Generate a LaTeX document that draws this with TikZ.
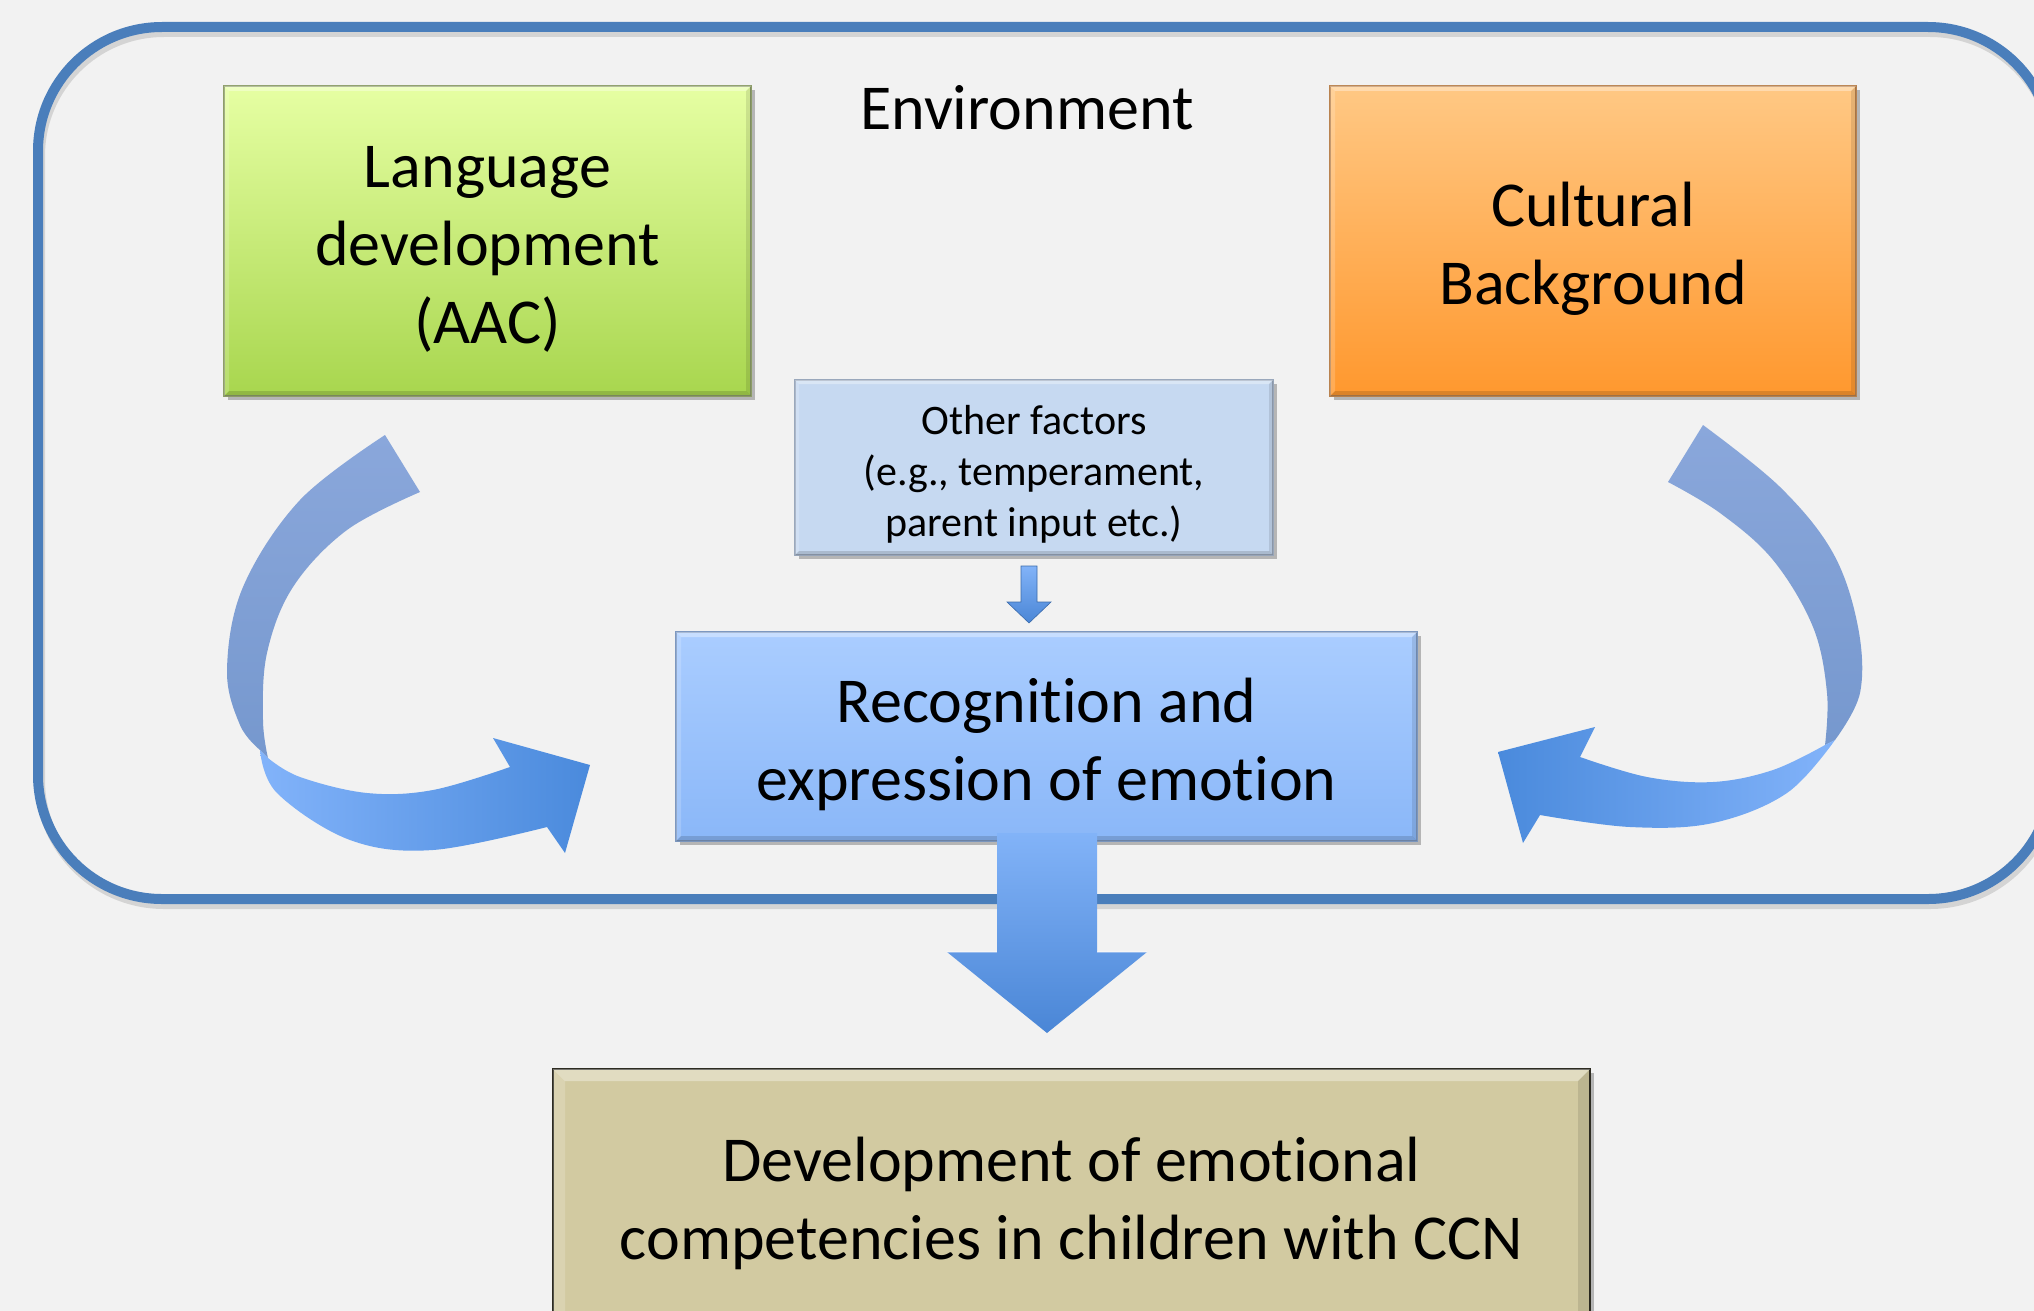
\documentclass[tikz,border=0pt]{standalone}
\usepackage{fontspec}
\setmainfont{Carlito}[Ligatures=NoCommon]
\usetikzlibrary{calc,shadows}

\definecolor{bgc}{HTML}{F2F2F2}
\definecolor{envc}{HTML}{4A7EBB}
\definecolor{langT}{HTML}{E6FFA3}
\definecolor{langB}{HTML}{A8D64E}
\definecolor{langD}{HTML}{8E9E6A}
\definecolor{cultT}{HTML}{FFC884}
\definecolor{cultB}{HTML}{FF982E}
\definecolor{cultD}{HTML}{B98350}
\definecolor{othF}{HTML}{C6D9F1}
\definecolor{othD}{HTML}{9AA8BC}
\definecolor{recT}{HTML}{AACDFF}
\definecolor{recB}{HTML}{8AB7F8}
\definecolor{recD}{HTML}{7D98C0}
\definecolor{devF}{HTML}{D2CAA1}
\definecolor{devD}{HTML}{2E2C22}
\definecolor{ribT}{HTML}{8AA7DB}
\definecolor{ribM}{HTML}{7698CE}
\definecolor{ribL}{HTML}{82B3FA}
\definecolor{ribR}{HTML}{4A8ADC}
\definecolor{arT}{HTML}{82B3F8}
\definecolor{arB}{HTML}{4A86D6}

% bevelled edge on a rectangular node: #1 node name, #2 bevel width
\newcommand{\boxbevel}[2]{%
  \fill[white,opacity=0.35] (#1.north west) -- (#1.north east)
     -- ($(#1.north east)+(-#2,#2)$) -- ($(#1.north west)+(#2,#2)$) -- cycle;
  \fill[white,opacity=0.18] (#1.north west) -- (#1.south west)
     -- ($(#1.south west)+(#2,-#2)$) -- ($(#1.north west)+(#2,#2)$) -- cycle;
  \fill[black,opacity=0.14] (#1.south west) -- (#1.south east)
     -- ($(#1.south east)+(-#2,-#2)$) -- ($(#1.south west)+(#2,-#2)$) -- cycle;
  \fill[black,opacity=0.10] (#1.north east) -- (#1.south east)
     -- ($(#1.south east)+(-#2,-#2)$) -- ($(#1.north east)+(-#2,#2)$) -- cycle;
}

\begin{document}
\begin{tikzpicture}[x=0.5pt,y=-0.5pt,
  every node/.style={outer sep=0pt, inner sep=0pt},
  bigtext/.style={font=\fontsize{32}{39}\selectfont, align=center, text=black},
  smalltext/.style={font=\fontsize{21}{25.5}\selectfont, align=center, text=black},
  boxshadow/.style={drop shadow={shadow xshift=2pt, shadow yshift=-2pt, opacity=0.25, fill=black}},
  factorbox/.style={rectangle, boxshadow, line width=0.8pt},
]
% canvas
\fill[bgc] (0,0) rectangle (2034,1311);
\useasboundingbox (0,0) rectangle (2034,1311);

% environment frame with a soft shadow
\draw[black, opacity=0.12, line width=5pt, rounded corners=62pt] (40,32) rectangle (2054,904);
\draw[envc, line width=5pt, rounded corners=62pt] (38,27) rectangle (2052,899);
\node[bigtext] (env) at (1027,108) {Environment};

% factor boxes
\node[factorbox, draw=langD, top color=langT, bottom color=langB,
      minimum width=263.5pt, minimum height=155pt] (lang) at (487.5,241) {};
\boxbevel{lang}{5}
\node[bigtext] (langtext) at ($(lang.center)+(0,8)$) {Language\\development\\(AAC)};

\node[factorbox, draw=cultD, top color=cultT, bottom color=cultB,
      minimum width=263pt, minimum height=155pt] (cult) at (1593,241) {};
\boxbevel{cult}{5}
\node[bigtext] (culttext) at ($(cult.center)+(0,8)$) {Cultural\\Background};

\node[factorbox, draw=othD, fill=othF,
      minimum width=239pt, minimum height=87.5pt] (other) at (1034,467.5) {};
\boxbevel{other}{4}
\node[smalltext] (othertext) at ($(other.center)+(0,7)$)
      {Other factors\\(e.g., temperament,\\parent input etc.)};

\node[factorbox, draw=recD, top color=recT, bottom color=recB,
      minimum width=370.5pt, minimum height=104.5pt] (rec) at (1046.5,736.5) {};
\boxbevel{rec}{5}
\node[bigtext] (rectext) at ($(rec.center)+(0,8)$) {Recognition and\\expression of emotion};

% outcome box
\node[factorbox, draw=devD, fill=devF, line width=1.2pt,
      minimum width=518.5pt, minimum height=136pt] (dev) at (1071.5,1205) {};
\boxbevel{dev}{12}
\node[bigtext] (devtext) at (1071.5,1203)
      {Development of emotional\\competencies in children with CCN};

% small arrow: other factors -> recognition
\shade[top color=arT, bottom color=arB, draw=arB!80!black, line width=0.3pt]
  (1021,566) -- (1037,566) -- (1037,602) -- (1051,602) -- (1029,623)
  -- (1007,602) -- (1021,602) -- cycle;

% big arrow: recognition -> development
\shade[top color=arT, bottom color=arB]
  (997,833) -- (1097,833) -- (1097,952) -- (1147,952) -- (1047,1033)
  -- (947,952) -- (997,952) -- cycle;
\draw[white, opacity=0.35, line width=1pt] (947,952) -- (997,952);
\draw[white, opacity=0.35, line width=1pt] (1097,952) -- (1147,952);

% curved ribbon arrow: language -> recognition
\shade[top color=ribT, bottom color=ribM]
  plot[smooth, tension=0.6] coordinates {(385,435) (300,500) (243,587) (227,670) (240,725) (260,750)}
  -- plot[smooth, tension=0.6] coordinates {(268,758) (263,720) (267,653) (293,587) (347,530) (420,492)}
  -- cycle;
\shade[left color=ribL, right color=ribR]
  plot[smooth, tension=0.6] coordinates {(260,750) (277,793) (350,840) (433,850) (547,827)}
  -- (565,853) -- (590,765) -- (493,738)
  -- plot[smooth, tension=0.6] coordinates {(510,767) (433,790) (367,793) (300,777) (268,758)}
  -- cycle;

% curved ribbon arrow: cultural background -> recognition
\shade[top color=ribT, bottom color=ribM]
  plot[smooth, tension=0.6] coordinates {(1703,425) (1780,487) (1833,553) (1858,627) (1860,693) (1835,740)}
  -- plot[smooth, tension=0.6] coordinates {(1825,745) (1827,693) (1813,627) (1773,560) (1720,513) (1668,482)}
  -- cycle;
\shade[left color=ribR, right color=ribL]
  plot[smooth, tension=0.6] coordinates {(1835,740) (1787,793) (1713,823) (1630,827) (1540,815)}
  -- (1523,843) -- (1498,752) -- (1595,727)
  -- plot[smooth, tension=0.6] coordinates {(1580,757) (1647,777) (1713,782) (1773,770) (1825,745)}
  -- cycle;
\end{tikzpicture}
\end{document}
